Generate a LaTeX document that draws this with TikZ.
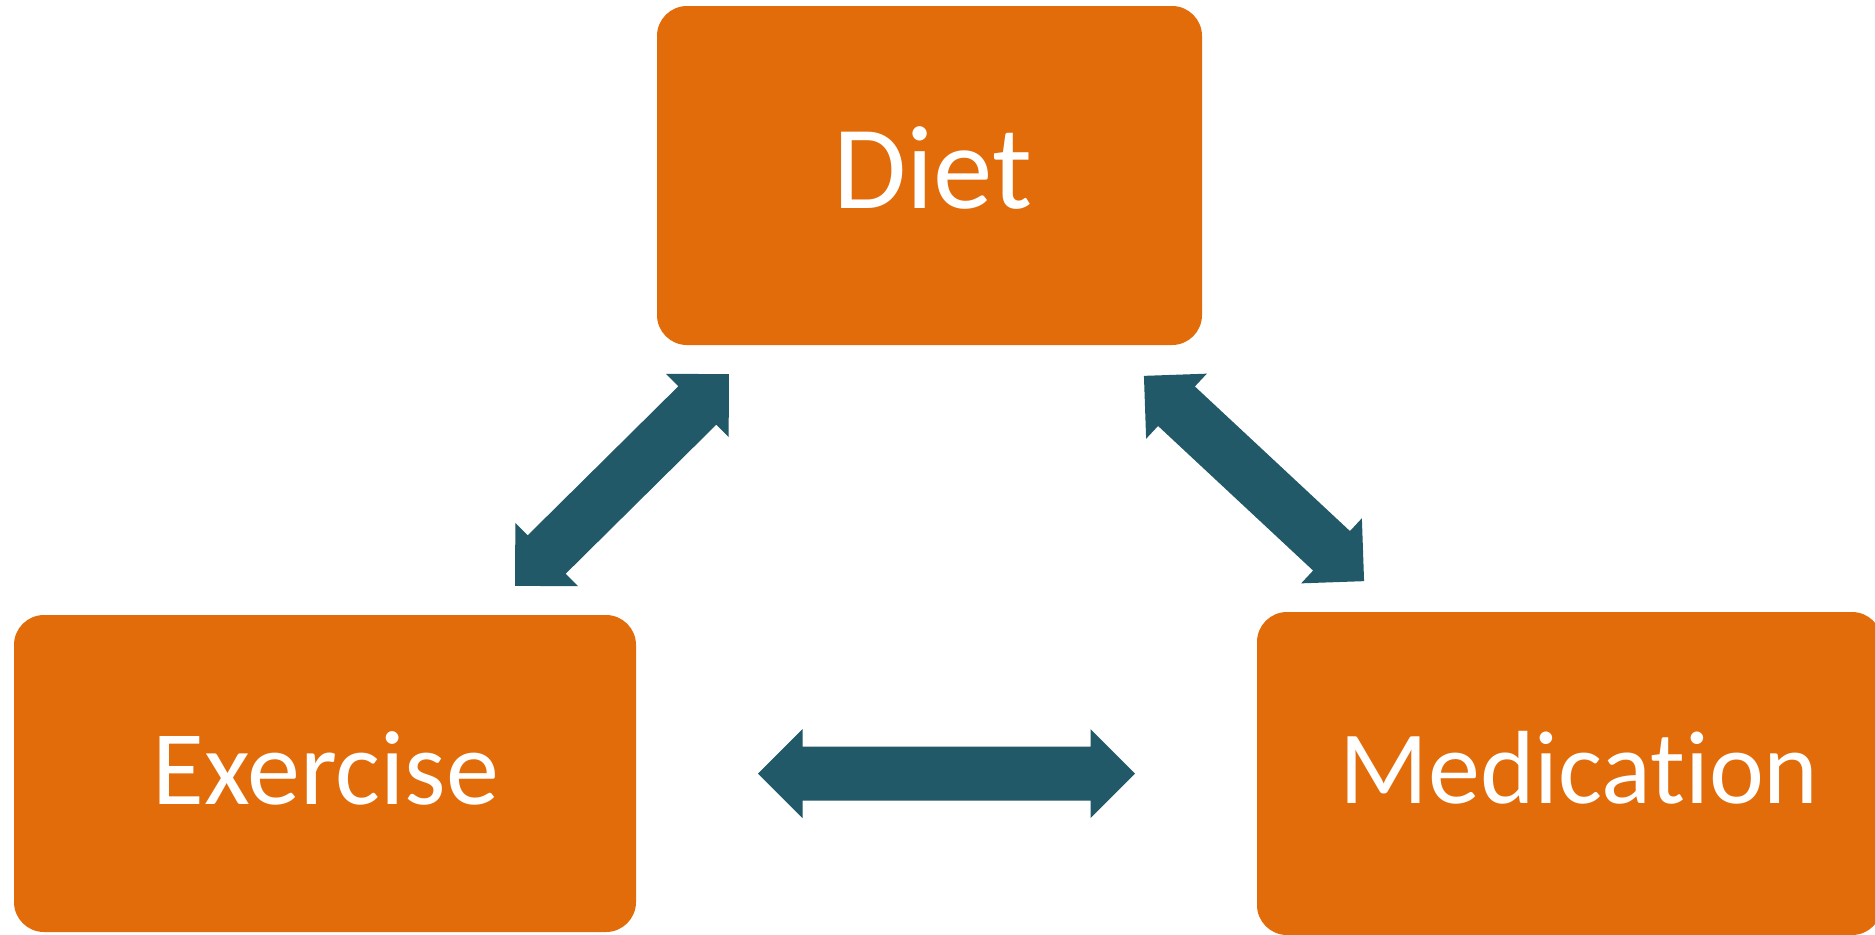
\documentclass[tikz,border=0pt]{standalone}
\usepackage{fontspec}
\setmainfont{Carlito}[Ligatures={NoCommon}]
\definecolor{boxorange}{HTML}{E36C0A}
\definecolor{arrowteal}{HTML}{215968}
\newcommand\dblarrow[5]{%
  \begin{scope}[shift={(#1,#2)}, rotate=#3]
    \coordinate (#5) at (0,0);
    \fill[arr] ({-#4/2},0) -- ({-#4/2+44.5},-44.5) -- ({-#4/2+44.5},-27)
      -- ({#4/2-44.5},-27) -- ({#4/2-44.5},-44.5) -- ({#4/2},0)
      -- ({#4/2-44.5},44.5) -- ({#4/2-44.5},27) -- ({-#4/2+44.5},27)
      -- ({-#4/2+44.5},44.5) -- cycle;
  \end{scope}}
\begin{document}
\begin{tikzpicture}[x=0.5pt,y=-0.5pt,
  box/.style={fill=boxorange, rounded corners=15pt, inner sep=0pt, draw=none},
  lbl/.style={text=white, inner sep=0pt, anchor=base},
  arr/.style={fill=arrowteal}]
\useasboundingbox (0,0) rectangle (1875,934);
\clip (0,0) rectangle (1875,934);
\fill[white] (0,0) rectangle (1875,934);
% boxes
\node[box, minimum width=272.5pt, minimum height=169.5pt] (diet) at (929.5,175.5) {};
\node[box, minimum width=311pt, minimum height=158.5pt] (exercise) at (325,773.5) {};
\node[box, minimum width=312.5pt, minimum height=161.5pt] (medication) at (1569.5,773.5) {};
% labels
\node[lbl, font=\fontsize{59.5pt}{66pt}\selectfont] (dietlbl) at (933,208) {Diet};
\node[lbl, font=\fontsize{53pt}{60pt}\selectfont] (exlbl) at (326,804) {Exercise};
\node[lbl, font=\fontsize{52pt}{60pt}\selectfont] (medlbl) at (1579,803) {Medication};
% arrows
\dblarrow{622}{480}{44.7}{301}{arrDE}
\dblarrow{1254}{478.5}{-43}{301}{arrDM}
\dblarrow{946.5}{773.5}{0}{377}{arrEM}
\end{tikzpicture}
\end{document}
